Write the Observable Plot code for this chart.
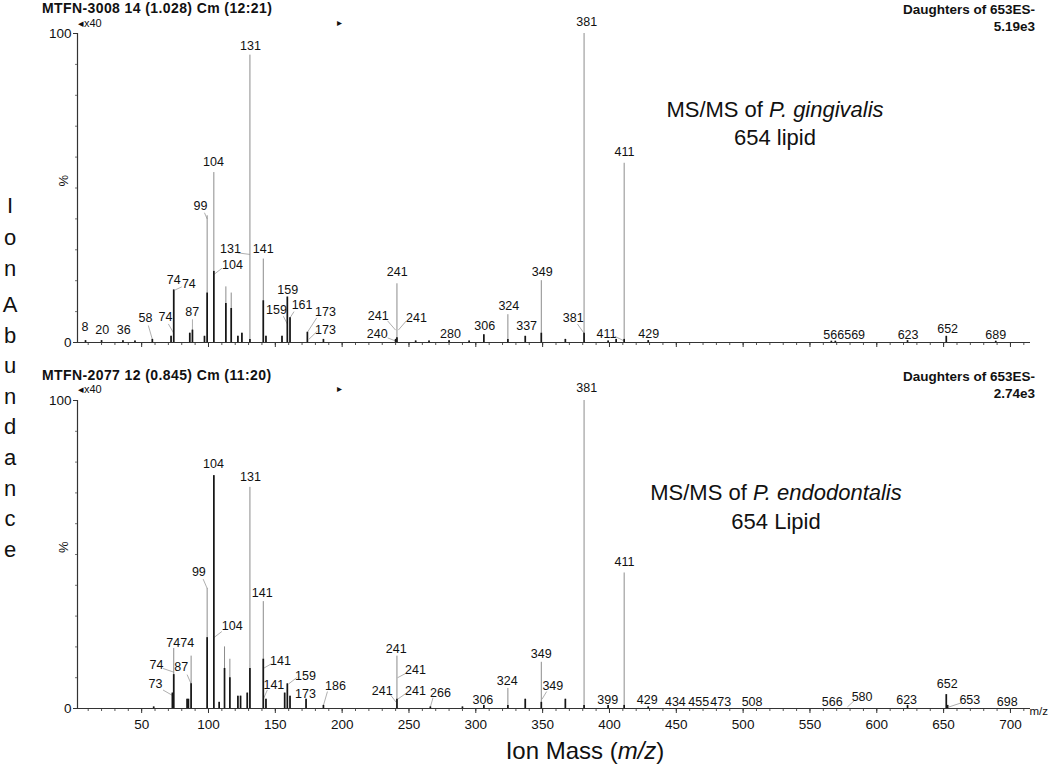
<!DOCTYPE html>
<html><head><meta charset="utf-8">
<script src="https://cdn.jsdelivr.net/npm/d3@7"></script>
<script src="https://cdn.jsdelivr.net/npm/@observablehq/plot@0.6"></script>
<style>
body{margin:0;background:#fff;font-family:"Liberation Sans",Arial,sans-serif;}
#wrap{position:relative;width:1050px;height:778px;overflow:hidden;background:#fff;}
.abs{position:absolute;white-space:nowrap;color:#111;}
.hdr{font-size:13.5px;font-weight:bold;}
.big{font-size:22px;text-align:center;width:300px;}
.plot{position:absolute;left:0;}
</style></head><body><div id="wrap"></div>
<script>
// ---------- data ----------
const mzMajorTicks = [50,100,150,200,250,300,350,400,450,500,550,600,650,700];
const mzMinorTicks = d3.range(10, 715, 10);
const pctTicks = [0, 100];

// Top panel: P. gingivalis
const topPeakMz   = [8,20,36,45,58,72,74,86,88,97,99,104,113,117,122,125,131,141,143,155,159,161,174,186,240,241,255,265,280,295,306,324,337,349,367,381,399,405,411,429,566,569,623,652,689];
const topPeakPct  = [0.6,0.6,0.6,0.5,1,2,17,3,4,2,41,55,18,16,2,3,93,27,2,2,14.7,8,3.3,1,1,19,0.5,0.5,0.6,0.5,2.5,9,2,20,1,100,0.5,1,58,0.6,0.4,0.4,0.6,2,0.4];
const topPeakDark = [0.6,0.6,0.6,0.5,1,2,17,3,4,2,16,23,12.6,11,2,3,1,13.5,2,2,14.7,8,3.3,1,1,1.5,0.5,0.5,0.6,0.5,2.5,1,2,3,1,3,0.5,1,1,0.6,0.4,0.4,0.6,2,0.4];

const topLabelText = ["381","131","411","104","99","131","141","104","74","74","87","74","58","36","20","8","159","159","161","173","173","241","241","241","240","280","306","324","337","349","381","411","429","566569","623","652","689"];
const topLabelMz   = [383,131.4,411.3,103.7,94,116.5,141,118,74,85.3,87.8,67.8,52.9,36.6,20.5,7.5,159.3,150.9,170,187.5,187.5,241.2,227,255.6,226.2,281,306.7,324.7,338,349.7,372.9,397.8,429.4,575.6,623.4,653,689];
const topLabelPct  = [103.6,96,61.5,58.3,44.3,30.4,30.4,25,20.3,19,9.8,8.1,7.8,4.2,4.2,5,17,10.4,12,9.8,4.2,22.8,8.7,8,2.6,2.6,5.2,11.7,5.2,22.8,8,2.6,2.6,2.3,2.3,4.3,2.3];
const topLeaders = [
  [97,42,99,40],[122,29,131,28.5],[110,24,104,22],[70,6,74,3],[55,5.5,58,1],[80,18,75,17],
  [88,7.5,88,4],[156,8.5,159,6],[164,10,161,8],[181,8,174,3.3],[181,3.5,175,1],
  [234,7,240,4],[248,7,242,4],[234,1.5,240,0.5],[376,6,381,3],[404,2,411,0.5]
];

// Bottom panel: P. endodontalis
const botPeakMz   = [59,73,74,84,85,87,99,104,108,112,116,122,124,129,131,141,143,157,159,161,173,186,241,266,290,306,324,337,349,367,381,399,411,429,623,652,653];
const botPeakPct  = [0.5,5,19.5,3,3,17,39,75.6,2,20,16,4,4,5,71.8,34.7,3,5,8,4,3,1,17,0.5,0.5,1,6.5,3,15,3,100,1,44,0.5,1,4.5,1];
const botPeakDark = [0.5,5,11,3,3,8,23,75.6,2,13,10,4,4,5,13,16,3,5,8,4,3,1,3,0.5,0.5,1,1,3,2,3,1,1,1,0.5,1,4.5,1];

const botLabelText = ["381","104","131","411","99","141","104","74","74","74","87","73","141","141","159","173","186","241","241","241","241","266","306","324","349","349","399","429","434","455","473","508","566","580","623","652","653","698"];
const botLabelMz   = [383,103.7,131.4,411.3,92.8,140.2,117.7,73.6,84.1,61.1,79.6,60.4,153.9,148.9,172.6,172.6,195,240.4,254.9,230,254.9,273.6,305.3,323.5,348.9,357.6,398.7,428.2,449.3,466.8,483.2,506.7,566.6,589,622.3,652.7,669.6,697.6];
const botLabelPct  = [103.9,79.5,75.3,47.7,44.3,37.4,26.9,21.2,21.2,14,13.4,7.8,15.4,7.5,10.7,4.8,7.2,19.4,12.5,5.8,5.8,5,2.6,8.8,17.8,7.2,2.6,2.6,2,2,2,2,2.2,3.7,2.8,7.8,2.6,2];
const botLeaders = [
  [96,42,99,39],[110,25,104,23],[66,13,74,11.8],[84,11,87,8],[66,6,74,4],
  [147,14.5,141,13],[144,6,141,3],[166,10,160,8],[189,5.5,186,1],
  [248,11.5,241.5,10],[236,4.5,240.5,2],[248,5,241.5,3],[268,3.5,266,0.5],
  [353,5.5,349.5,3],[583,2.5,578,0.5],[663,1.8,654,0.5]
];

// ---------- drawing ----------
const FONT = '"Liberation Sans", Arial, sans-serif';
const wrap = document.getElementById("wrap");

function panel(o) {
  const peaks = o.peakMz.map((mz, i) => ({mz, pct: o.peakPct[i], dark: o.peakDark[i]}));
  const labels = o.labelText.map((t, i) => ({t, mz: o.labelMz[i], pct: o.labelPct[i]}));
  const links = o.leaders.map(([x1, y1, x2, y2]) => ({x1, y1, x2, y2}));
  const svg = Plot.plot({
    width: 1050, height: o.height,
    marginLeft: 77, marginRight: 20, marginTop: o.marginTop, marginBottom: o.marginBottom,
    x: {domain: [2, 715]},
    y: {domain: [0, 100]},
    style: {fontFamily: FONT, background: "transparent", color: "#111"},
    marks: [
      Plot.link(links, {x1: "x1", y1: "y1", x2: "x2", y2: "y2", stroke: "#9a9a9a", strokeWidth: 0.8}),
      Plot.ruleX(peaks, {x: "mz", y1: 0, y2: "pct", stroke: "#8c8c8c", strokeWidth: 1}),
      Plot.ruleX(peaks, {x: "mz", y1: 0, y2: "dark", stroke: "#161616", strokeWidth: 1.7}),
      Plot.axisX(mzMinorTicks, {tickSize: 3, tickFormat: () => "", label: null, stroke: "#555"}),
      Plot.axisX(mzMajorTicks, {tickSize: 5, tickPadding: 6, label: null, fontSize: 13.5,
        tickFormat: o.tickLabels ? (d => d) : (() => ""), stroke: "#333"}),
      Plot.axisY(d3.range(10, 100, 10), {tickSize: 2, tickFormat: () => "", label: null, stroke: "#777"}),
      Plot.axisY(pctTicks, {tickSize: 4, tickPadding: 2, label: null, fontSize: 13.5, stroke: "#333"}),
      Plot.text(["%"], {frameAnchor: "left", y: [50.5], dx: -14, rotate: -90, fontSize: 13}),
      Plot.ruleY([0], {stroke: "#333", strokeWidth: 1.2}),
      Plot.ruleX([2], {stroke: "#333", strokeWidth: 1.2}),
      Plot.text(labels, {x: "mz", y: "pct", text: "t", fontSize: 12.5, fill: "#111"}),
      ...(o.tickLabels ? [Plot.text(["m/z"], {frameAnchor: "bottom-right", textAnchor: "start", dx: -1, dy: 6, fontSize: 11.5})] : [])
    ]
  });
  svg.classList.add("plot");
  svg.style.top = o.top + "px";
  wrap.appendChild(svg);
}

panel({top: 0, height: 360, marginTop: 33, marginBottom: 18, tickLabels: false,
  peakMz: topPeakMz, peakPct: topPeakPct, peakDark: topPeakDark,
  labelText: topLabelText, labelMz: topLabelMz, labelPct: topLabelPct, leaders: topLeaders});
panel({top: 366, height: 412, marginTop: 34, marginBottom: 70, tickLabels: true,
  peakMz: botPeakMz, peakPct: botPeakPct, peakDark: botPeakDark,
  labelText: botLabelText, labelMz: botLabelMz, labelPct: botLabelPct, leaders: botLeaders});

// ---------- text overlays ----------
function addText(html, css, cls) {
  const d = document.createElement("div");
  d.className = "abs " + (cls || "");
  d.innerHTML = html;
  Object.assign(d.style, css);
  wrap.appendChild(d);
}
addText("MTFN-3008 14 (1.028) Cm (12:21)", {left: "42px", top: "0px", fontSize: "14px", letterSpacing: "0.4px"}, "hdr");
addText("Daughters of 653ES-<br>5.19e3", {right: "15px", top: "1px", textAlign: "right", lineHeight: "17px"}, "hdr");
addText("&#9666;x40", {left: "78px", top: "17px", fontSize: "11px"});
addText("&#9656;", {left: "337px", top: "17px", fontSize: "10px"});
addText("MTFN-2077 12 (0.845) Cm (11:20)", {left: "42px", top: "367px", fontSize: "14px", letterSpacing: "0.4px"}, "hdr");
addText("Daughters of 653ES-<br>2.74e3", {right: "15px", top: "368px", textAlign: "right", lineHeight: "17px"}, "hdr");
addText("&#9666;x40", {left: "78px", top: "383px", fontSize: "11px"});
addText("&#9656;", {left: "337px", top: "383px", fontSize: "10px"});

addText("MS/MS of <i>P. gingivalis</i><br>654 lipid", {left: "625px", top: "96px", lineHeight: "28px"}, "big");
addText("MS/MS of <i>P. endodontalis</i><br>654 Lipid", {left: "626px", top: "478px", lineHeight: "29px"}, "big");

addText("Ion Mass (<i>m/z</i>)", {left: "485px", top: "737px", width: "200px", textAlign: "center", fontSize: "24px"});
addText("I<br>o<br>n", {left: "0px", top: "190px", width: "20px", textAlign: "center", fontSize: "22px", lineHeight: "31.5px"});
addText("A<br>b<br>u<br>n<br>d<br>a<br>n<br>c<br>e", {left: "0px", top: "290px", width: "20px", textAlign: "center", fontSize: "22px", lineHeight: "30.6px"});
</script></body></html>
